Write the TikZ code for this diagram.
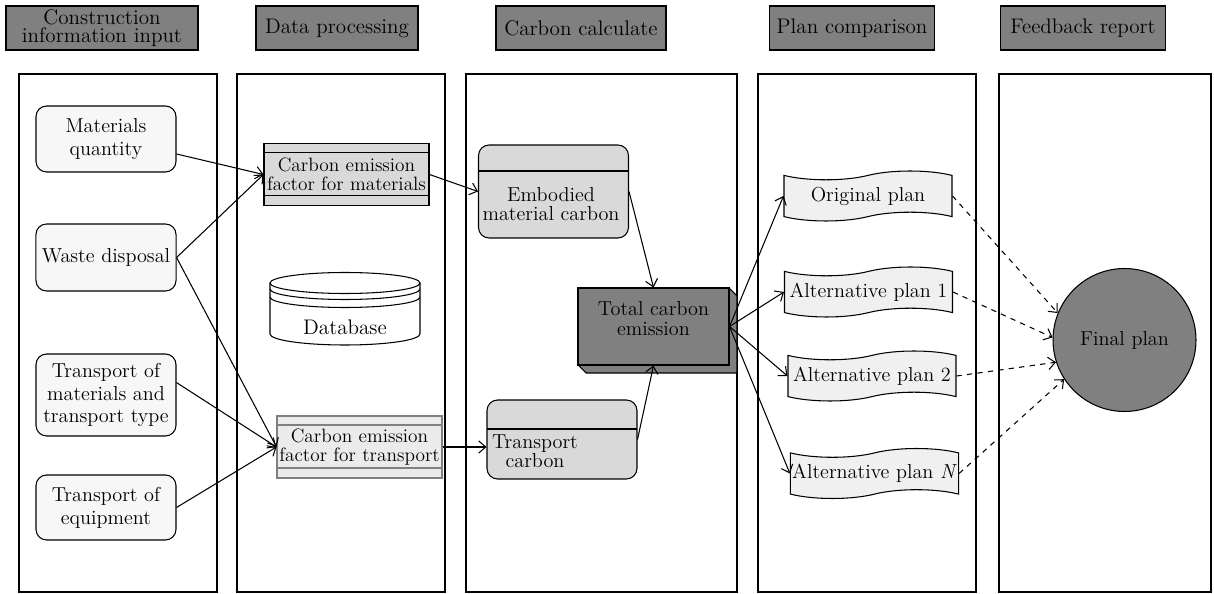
\documentclass[tikz,border=0pt]{standalone}
\usetikzlibrary{shapes.symbols,arrows.meta}

\begin{document}
\begin{tikzpicture}[x=0.02cm, y=-0.02cm, line width=0.6pt,
  font=\fontsize{11.5}{13}\selectfont, >={Straight Barb[length=4pt,width=7pt]},
  head/.style={draw, fill=gray, minimum height=0.88cm, align=center, inner sep=1pt, font=\fontsize{12}{12.5}\selectfont},
  input/.style={draw, rounded corners=6pt, fill=gray!6, minimum width=2.8cm, align=center},
  factor/.style={draw, minimum width=3.3cm, minimum height=1.24cm, align=center, inner xsep=0pt, font=\fontsize{11}{12.5}\selectfont,
    path picture={
      \draw ([yshift=-0.18cm]path picture bounding box.north west) -- ([yshift=-0.18cm]path picture bounding box.north east);
      \draw ([yshift=0.2cm]path picture bounding box.south west) -- ([yshift=0.2cm]path picture bounding box.south east);}},
  calc/.style={draw, rounded corners=6pt, fill=gray!30, minimum width=3.0cm,
    path picture={\draw ([yshift=-#1]path picture bounding box.north west) -- ([yshift=-#1]path picture bounding box.north east);}},
  plan/.style={tape, draw, fill=gray!12, minimum width=3.36cm, minimum height=1.0cm, tape bend height=5pt, inner xsep=1pt}]
\useasboundingbox (0,0) rectangle (1214,594);

% lanes
\draw (19,74) rectangle (217,592);
\draw (237,74) rectangle (445,592);
\draw (466,74) rectangle (737,592);
\draw (758,74) rectangle (976,592);
\draw (999,74) rectangle (1211,592);

% headers
\node[head, minimum width=3.84cm] (h1) at (102,28) {Construction\\[-2pt]information input};
\node[head, minimum width=3.24cm] (h2) at (337,28) {Data processing};
\node[head, minimum width=3.4cm] (h3) at (581,28) {Carbon calculate};
\node[head, minimum width=3.3cm] (h4) at (852,28) {Plan comparison};
\node[head, minimum width=3.3cm] (h5) at (1083,28) {Feedback report};

% inputs
\node[input, minimum height=1.32cm] (matq) at (106,139) {Materials\\quantity};
\node[input, minimum height=1.34cm] (waste) at (106,257.5) {Waste disposal};
\node[input, minimum height=1.64cm] (transm) at (106,395) {Transport of\\materials and\\transport type};
\node[input, minimum height=1.30cm] (transe) at (106,507.5) {Transport of\\equipment};

% data processing
\node[factor, fill=gray!30] (cefm) at (346.5,174.5) {Carbon emission\\[-2pt]factor for materials};
\node[factor, fill=gray!16, draw=gray] (ceft) at (359.5,447) {Carbon emission\\[-2pt]factor for transport};

\draw[fill=white] (270,283) -- (270,334) arc[start angle=180, end angle=360, x radius=1.5cm, y radius=0.22cm] -- (420,283);
\draw[fill=white] (345,283) ellipse[x radius=1.5cm, y radius=0.21cm];
\draw (270,289) arc[start angle=180, end angle=360, x radius=1.5cm, y radius=0.21cm];
\draw (270,297) arc[start angle=180, end angle=360, x radius=1.5cm, y radius=0.21cm];
\node[font=\fontsize{12}{13}\selectfont] (db) at (345,327) {Database};

% carbon calculate
\node[calc=0.52cm, minimum height=1.86cm] (emb) at (553.5,191.5) {};
\node[align=center] (embt) at (551,204) {Embodied\\[-2pt]material carbon};
\node[calc=0.58cm, minimum height=1.58cm] (tcarb) at (562,439.5) {};
\node[align=center] (tcarbt) at (535,451) {Transport\\[-2pt]carbon};

\draw[fill=gray] (653.5,326.5) ++(75.5,-38.5) -- ++(8,8) -- ++(0,77) -- ++(-151,0) -- ++(-8,-8) -- cycle;
\node[draw, fill=gray, minimum width=3.02cm, minimum height=1.54cm, align=center] (total) at (653.5,326.5) {Total carbon\\[-2pt]emission\\[-4pt]};

% plans
\node[plan] (orig) at (868,196) {Original plan};
\node[plan] (alt1) at (868.5,292) {Alternative plan 1};
\node[plan] (alt2) at (872,376) {Alternative plan 2};
\node[plan] (altn) at (874.5,473.5) {Alternative plan \textit{N}};

\node[draw, circle, fill=gray, minimum size=2.86cm] (final) at (1124.5,340) {Final plan};

\draw[->] (matq.-12) -- (cefm.west);
\draw[->] (waste.east) -- (cefm.west);
\draw[->] (waste.east) -- (ceft.west);
\draw[->] (transm.10) -- (ceft.west);
\draw[->] (transe.east) -- (ceft.west);
\draw[->] (cefm.east) -- (emb.west);
\draw[->] (ceft.east) -- (ceft.east -| tcarb.west);
\draw[->] (emb.east) -- (total.north);
\draw[->] (tcarb.east) -- (total.south);
\draw[->] (total.east) -- (orig.west);
\draw[->] (total.east) -- (alt1.west);
\draw[->] (total.east) -- (alt2.west);
\draw[->] (total.east) -- (altn.west);
\draw[->, dashed] (orig.east) -- (final.158);
\draw[->, dashed] (alt1.east) -- (final.178);
\draw[->, dashed] (alt2.east) -- (final.198);
\draw[->, dashed] (altn.east) -- (final.213);
\end{tikzpicture}
\end{document}
